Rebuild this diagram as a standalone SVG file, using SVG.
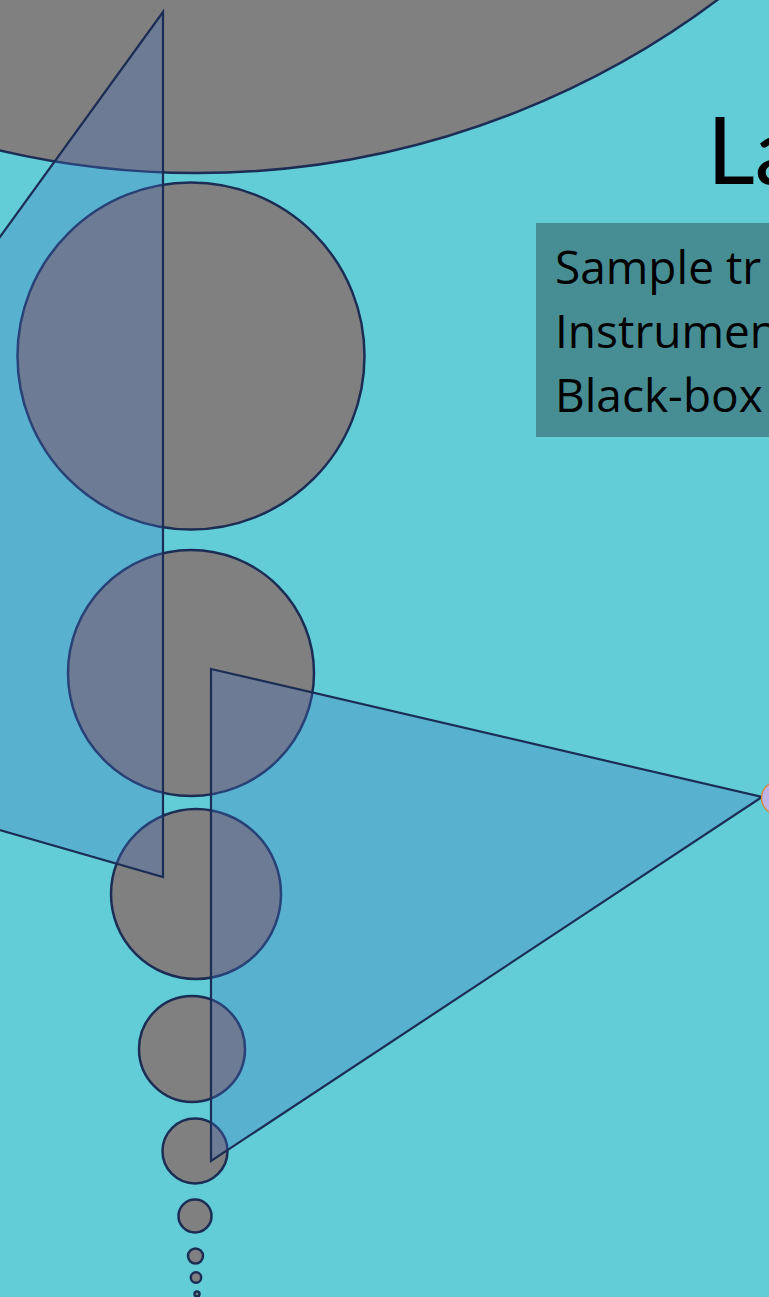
<svg xmlns="http://www.w3.org/2000/svg" width="769" height="1297" viewBox="0 0 769 1297">
  <defs>
    <style>
      .circ { fill: #808080; stroke: #1C2D55; stroke-width: 2.5; }
      .tri { fill: #4472C4; fill-opacity: 0.3; stroke: #1C2D55; stroke-width: 2.2; stroke-linejoin: miter; }
      .title { font-family: Lato, "Open Sans", sans-serif; font-size: 93px; fill: #000; }
      .body { font-family: "Open Sans", "Liberation Sans", sans-serif; font-size: 46px; fill: #000; }
    </style>
  </defs>
  <rect x="0" y="0" width="769" height="1297" fill="#62CDD6"/>

  <g id="circles">
    <circle id="c1" class="circ" cx="197" cy="-695" r="868"/>
    <circle id="c2" class="circ" cx="191" cy="356" r="173.5"/>
    <circle id="c3" class="circ" cx="191" cy="673" r="123"/>
    <circle id="c4" class="circ" cx="196" cy="894" r="85"/>
    <circle id="c5" class="circ" cx="192" cy="1049" r="53"/>
    <circle id="c6" class="circ" cx="195" cy="1151" r="32.5"/>
    <circle id="c7" class="circ" cx="195" cy="1216" r="16.5"/>
    <circle id="c8" class="circ" cx="195.5" cy="1256" r="7.5"/>
    <circle id="c9" class="circ" cx="196" cy="1277.5" r="5.2"/>
    <circle id="c10" class="circ" cx="197" cy="1294" r="2.5"/>
  </g>

  <g id="connectors">
    <polygon id="tri-left" class="tri" points="163,12 163,877 -356,728"/>
    <polygon id="tri-right" class="tri" points="211,669 762,797 211,1161"/>
  </g>

  <g id="title">
    <text class="title" x="707" y="184">La</text>
  </g>

  <g id="textbox">
    <rect x="536" y="223" width="240" height="214" fill="#478E94"/>
    <text class="body" x="555" y="284">Sample tr</text>
    <text class="body" x="555" y="348">Instrumen</text>
    <text class="body" x="555" y="412">Black-box</text>
  </g>

  <g id="edge-node">
    <circle cx="778" cy="798" r="16.5" fill="#BDB3E6" stroke="#D9863A" stroke-width="1.3"/>
    <circle cx="781" cy="798" r="12" fill="#1E1A2A"/>
  </g>
</svg>
